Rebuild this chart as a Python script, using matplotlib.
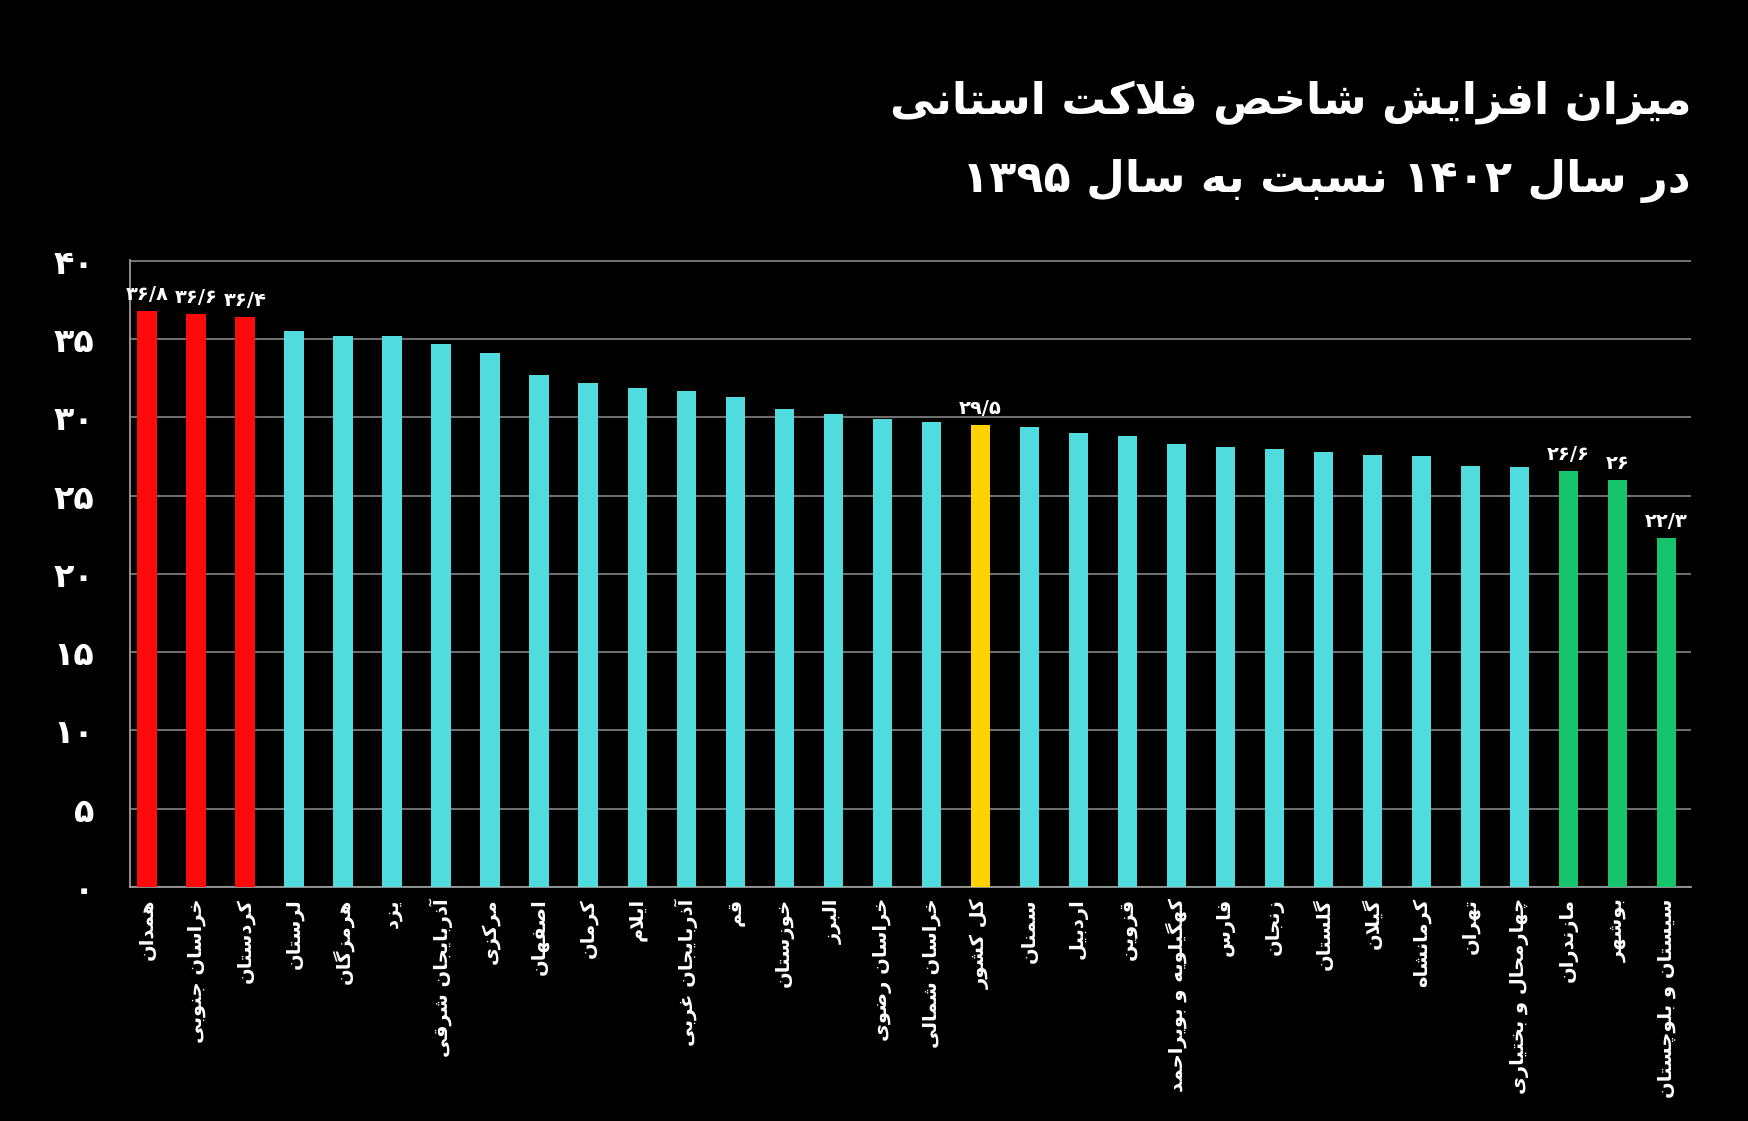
import re
import matplotlib
matplotlib.use("Agg")
import matplotlib.pyplot as plt
from matplotlib.ticker import FuncFormatter

# ---------------- data ----------------
provinces = [
    "همدان", "خراسان جنوبی", "کردستان", "لرستان", "هرمزگان", "یزد",
    "آذربایجان شرقی", "مرکزی", "اصفهان", "کرمان", "ایلام", "آذربایجان غربی",
    "قم", "خوزستان", "البرز", "خراسان رضوی", "خراسان شمالی", "کل کشور",
    "سمنان", "اردبیل", "قزوین", "کهگیلویه و بویراحمد", "فارس", "زنجان",
    "گلستان", "گیلان", "کرمانشاه", "تهران", "چهارمحال و بختیاری",
    "مازندران", "بوشهر", "سیستان و بلوچستان",
]
values = [36.8, 36.6, 36.4, 35.5, 35.2, 35.2, 34.7, 34.1, 32.7, 32.2, 31.9,
          31.7, 31.3, 30.5, 30.2, 29.9, 29.7, 29.5, 29.4, 29.0, 28.8, 28.3,
          28.1, 28.0, 27.8, 27.6, 27.5, 26.9, 26.8, 26.6, 26.0, 22.3]
highest = ["همدان", "خراسان جنوبی", "کردستان"]
national = ["کل کشور"]
lowest = ["مازندران", "بوشهر", "سیستان و بلوچستان"]
y_ticks = [0, 5, 10, 15, 20, 25, 30, 35, 40]
title_line1 = "میزان افزایش شاخص فلاکت استانی"
title_line2 = "در سال ۱۴۰۲ نسبت به سال ۱۳۹۵"

# ---------------- Persian shaping helpers ----------------
DUAL = {'ب': 0xFE8F, 'ت': 0xFE95, 'ث': 0xFE99, 'ج': 0xFE9D, 'ح': 0xFEA1,
        'خ': 0xFEA5, 'س': 0xFEB1, 'ش': 0xFEB5, 'ص': 0xFEB9, 'ض': 0xFEBD,
        'ط': 0xFEC1, 'ظ': 0xFEC5, 'ع': 0xFEC9, 'غ': 0xFECD, 'ف': 0xFED1,
        'ق': 0xFED5, 'ل': 0xFEDD, 'م': 0xFEE1, 'ن': 0xFEE5, 'ه': 0xFEE9,
        'پ': 0xFB56, 'چ': 0xFB7A, 'ک': 0xFB8E, 'گ': 0xFB92, 'ی': 0xFBFC,
        'ئ': 0xFE89}
RIGHT = {'ا': 0xFE8D, 'آ': 0xFE81, 'د': 0xFEA9, 'ذ': 0xFEAB, 'ر': 0xFEAD,
         'ز': 0xFEAF, 'ژ': 0xFB8A, 'و': 0xFEED}
LAMALEF = {'ا': (0xFEFB, 0xFEFC), 'آ': (0xFEF5, 0xFEF6)}


def shape(s):
    out = []
    n = len(s)
    i = 0
    while i < n:
        c = s[i]
        prev_j = i > 0 and s[i - 1] in DUAL
        if c == 'ل' and i + 1 < n and s[i + 1] in LAMALEF:
            iso, fin = LAMALEF[s[i + 1]]
            out.append(chr(fin if prev_j else iso))
            i += 2
            continue
        next_j = i + 1 < n and (s[i + 1] in DUAL or s[i + 1] in RIGHT)
        if c in DUAL:
            b = DUAL[c]
            if prev_j and next_j:
                out.append(chr(b + 3))
            elif prev_j:
                out.append(chr(b + 1))
            elif next_j:
                out.append(chr(b + 2))
            else:
                out.append(chr(b))
        elif c in RIGHT:
            b = RIGHT[c]
            out.append(chr(b + 1 if prev_j else b))
        else:
            out.append(c)
        i += 1
    vis = "".join(out)[::-1]
    vis = re.sub(r'[۰-۹0-9/]+', lambda m: m.group(0)[::-1], vis)
    return vis


FA = str.maketrans("0123456789.", "۰۱۲۳۴۵۶۷۸۹/")


def fa_num(v):
    txt = f"{v:.1f}"
    if txt.endswith(".0"):
        txt = txt[:-2]
    return txt.translate(FA)


# ---------------- colours ----------------
RED = "#FF0A0A"
CYAN = "#50DCDF"
YELLOW = "#FFD200"
GREEN = "#16C46C"
colors = []
for p in provinces:
    if p in highest:
        colors.append(RED)
    elif p in national:
        colors.append(YELLOW)
    elif p in lowest:
        colors.append(GREEN)
    else:
        colors.append(CYAN)

# ---------------- figure ----------------
plt.rcParams['font.family'] = ['DejaVu Sans']
fig = plt.figure(figsize=(17.48, 11.21), dpi=100, facecolor="black")
ax = fig.add_axes([0.0744, 0.2087, 0.893, 0.5594], facecolor="black")

x = list(range(len(provinces)))
ax.bar(x, values, width=0.4, color=colors, zorder=3)

ax.set_xlim(-0.35, len(provinces) - 0.5)
ax.set_ylim(0, 40.05)
ax.set_yticks(y_ticks)
ax.yaxis.set_major_formatter(FuncFormatter(lambda v, p: str(int(v)).translate(FA)))
ax.grid(axis='y', color="#7a7a7a", linewidth=1.3, zorder=0)
ax.set_axisbelow(True)

for side in ("top", "right"):
    ax.spines[side].set_visible(False)
ax.spines["left"].set_color("#9a9a9a")
ax.spines["left"].set_linewidth(1.3)
ax.spines["bottom"].set_color("#9a9a9a")
ax.spines["bottom"].set_linewidth(1.3)

ax.tick_params(axis='y', length=0, pad=26, labelsize=24, labelcolor="white")
for t in ax.get_yticklabels():
    t.set_fontweight("bold")

ax.set_xticks(x)
ax.set_xticklabels([shape(p) for p in provinces], rotation=90,
                   fontsize=14, fontweight="bold", color="white")
ax.tick_params(axis='x', length=0, pad=8)

# value labels for highlighted bars
for i, (p, v) in enumerate(zip(provinces, values)):
    if p in highest or p in national or p in lowest:
        ax.text(i, v + 0.45, fa_num(v), ha="center", va="bottom",
                fontsize=14, fontweight="bold", color="white", zorder=4)

# title
fig.text(0.9674, 1 - 114 / 1121, shape(title_line1), ha="right", va="baseline",
         fontsize=32, fontweight="bold", color="white")
fig.text(0.9674, 1 - 192 / 1121, shape(title_line2), ha="right", va="baseline",
         fontsize=32, fontweight="bold", color="white")

fig.savefig("out.png", dpi=100, facecolor="black")
